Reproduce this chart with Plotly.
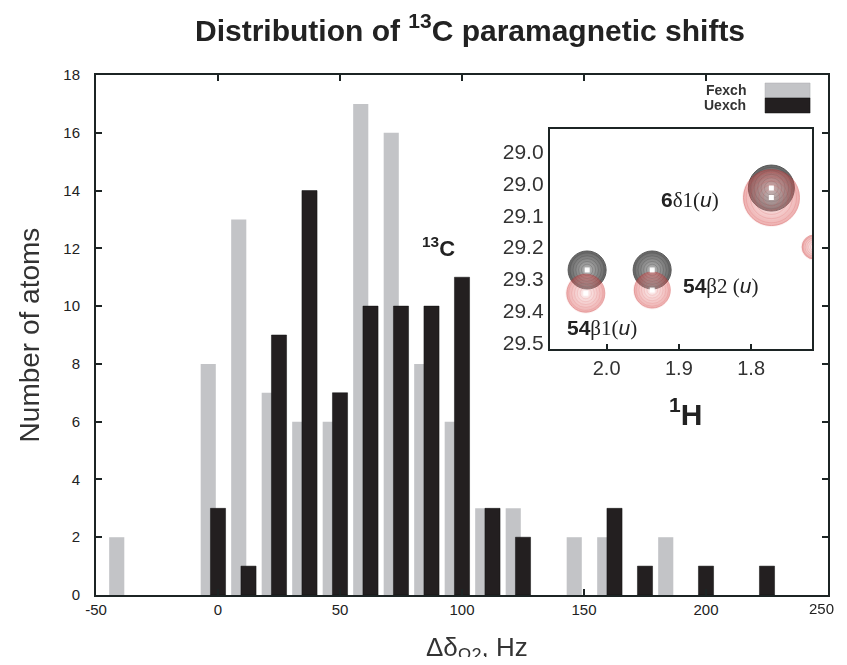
import plotly.graph_objects as go

# ---------------- data ----------------
# histogram bins (Hz) and counts
fexch_x = [-37.5, 0, 12.5, 25, 37.5, 50, 62.5, 75, 87.5, 100, 112.5, 125, 150, 162.5, 187.5]
fexch_y = [2, 8, 13, 7, 6, 6, 17, 16, 8, 6, 3, 3, 2, 2, 2]
uexch_x = [0, 12.5, 25, 37.5, 50, 62.5, 75, 87.5, 100, 112.5, 125, 162.5, 175, 200, 225]
uexch_y = [3, 1, 9, 14, 7, 10, 10, 10, 11, 3, 2, 3, 1, 1, 1]

x_ticks = [-50, 0, 50, 100, 150, 200, 250]
x_ticktext = ["-50", "0", "50", "100", "150", "200", "250"]
y_ticks = [0, 2, 4, 6, 8, 10, 12, 14, 16, 18]

# inset spectrum: peak positions (1H ppm, 13C ppm)
unexch_peak_h = [2.027, 1.937, 1.772]
unexch_peak_c = [29.272, 29.272, 29.015]
exch_peak_h = [2.029, 1.937, 1.772, 1.713]
exch_peak_c = [29.345, 29.335, 29.045, 29.20]

inset_h_ticks = [2.0, 1.9, 1.8]
inset_c_tickvals = [28.9, 29.0, 29.1, 29.2, 29.3, 29.4, 29.5]
inset_c_ticktext = ["29.0", "29.0", "29.1", "29.2", "29.3", "29.4", "29.5"]

serif = "Liberation Serif, Times New Roman, serif"
peak_labels = [
    ("<b>6</b><span style='font-family:%s'>δ1(</span><i>u</i><span style='font-family:%s'>)</span>" % (serif, serif), 1.884, 29.052),
    ("<b>54</b><span style='font-family:%s'>β2 (</span><i>u</i><span style='font-family:%s'>)</span>" % (serif, serif), 1.843, 29.321),
    ("<b>54</b><span style='font-family:%s'>β1(</span><i>u</i><span style='font-family:%s'>)</span>" % (serif, serif), 2.007, 29.455),
]

# ---------------- styles ----------------
FONT = "Liberation Sans, Arial, Helvetica, sans-serif"
GRAY = "#c3c4c7"
BLACK = "#231f20"
AXC = "#1c2424"
unexch_sizes = [38, 38, 46]
exch_sizes = [38, 36, 56, 24]
ring_fracs = [0.9, 0.75, 0.6, 0.45, 0.3]

fig = go.Figure()

fig.add_trace(go.Bar(x=fexch_x, y=fexch_y, width=6.2, offset=-7.1,
                     marker=dict(color=GRAY, line=dict(width=0)), name="Fexch",
                     xaxis="x", yaxis="y"))
fig.add_trace(go.Bar(x=uexch_x, y=uexch_y, width=6.2, offset=-3.1,
                     marker=dict(color=BLACK, line=dict(color="#111", width=0.5)), name="Uexch",
                     xaxis="x", yaxis="y"))

# inset: unexchanged (black) peaks
fig.add_trace(go.Scatter(x=unexch_peak_h, y=unexch_peak_c, mode="markers",
                         marker=dict(size=unexch_sizes, color="#262626",
                                     gradient=dict(type="radial", color="#9a9a9a"),
                                     line=dict(width=1, color="#111")),
                         xaxis="x2", yaxis="y2", hoverinfo="skip"))
for f in ring_fracs:
    fig.add_trace(go.Scatter(x=unexch_peak_h, y=unexch_peak_c, mode="markers",
                             marker=dict(size=[s * f for s in unexch_sizes], symbol="circle-open",
                                         color="rgba(40,40,40,0.35)", line=dict(width=0.8)),
                             xaxis="x2", yaxis="y2", hoverinfo="skip"))
# inset: exchanged (red) peaks
fig.add_trace(go.Scatter(x=exch_peak_h, y=exch_peak_c, mode="markers",
                         marker=dict(size=exch_sizes, color="rgba(215,70,70,0.8)",
                                     gradient=dict(type="radial", color="rgba(245,205,205,0.6)"),
                                     line=dict(width=1, color="rgba(200,40,40,0.9)")),
                         opacity=0.75, xaxis="x2", yaxis="y2", hoverinfo="skip"))
for f in ring_fracs:
    fig.add_trace(go.Scatter(x=exch_peak_h, y=exch_peak_c, mode="markers",
                             marker=dict(size=[s * f for s in exch_sizes], symbol="circle-open",
                                         color="rgba(215,80,80,0.3)", line=dict(width=0.8)),
                             xaxis="x2", yaxis="y2", hoverinfo="skip"))
# peak tops
fig.add_trace(go.Scatter(x=unexch_peak_h + exch_peak_h[:3], y=unexch_peak_c + exch_peak_c[:3],
                         mode="markers",
                         marker=dict(size=5, symbol="square", color="white", line=dict(width=0)),
                         xaxis="x2", yaxis="y2", hoverinfo="skip"))

axis_common = dict(showline=True, linewidth=2, linecolor=AXC, mirror="ticks",
                   ticks="inside", ticklen=6, tickwidth=2, tickcolor=AXC,
                   showgrid=False, zeroline=False)

annotations = [
    dict(text="Number of atoms", xref="paper", yref="paper", x=-0.091, y=0.5,
         xanchor="center", yanchor="middle",
         textangle=-90, showarrow=False, font=dict(family=FONT, size=28, color="#333")),
    dict(text="Δδ<sub>Ω2</sub>, Hz", xref="paper", yref="paper", x=0.52, y=-0.103,
         xanchor="center", yanchor="middle", showarrow=False,
         font=dict(family=FONT, size=26, color="#333")),
    # last x tick label, pulled in so it stays inside the page
    dict(text=x_ticktext[-1], x=1.0115, y=-0.026, xref="paper", yref="paper",
         xanchor="right", yanchor="middle", showarrow=False,
         font=dict(family=FONT, size=15, color="#222")),
    dict(text="<b>Fexch</b>", xref="paper", yref="paper", x=0.891, y=0.971,
         xanchor="right", yanchor="middle", showarrow=False,
         font=dict(family=FONT, size=14, color="#333")),
    dict(text="<b>Uexch</b>", xref="paper", yref="paper", x=0.891, y=0.942,
         xanchor="right", yanchor="middle", showarrow=False,
         font=dict(family=FONT, size=14, color="#333")),
    dict(text="<b><sup>13</sup>C</b>", xref="paper", yref="paper", x=0.468, y=0.67,
         xanchor="center", yanchor="middle", showarrow=False,
         font=dict(family=FONT, size=22, color="#222")),
    dict(text="<b><sup>1</sup>H</b>", xref="paper", yref="paper", x=0.805, y=0.352,
         xanchor="center", yanchor="middle", showarrow=False,
         font=dict(family=FONT, size=30, color="#222")),
]
for txt, h, c in peak_labels:
    annotations.append(dict(text=txt, x=h, y=c, xref="x2", yref="y2", showarrow=False,
                            xanchor="center", yanchor="middle",
                            font=dict(family=FONT, size=21, color="#222")))

shapes = [
    dict(type="rect", xref="paper", yref="paper", x0=0.914, x1=0.9755, y0=0.9558, y1=0.9846,
         fillcolor=GRAY, line=dict(color="#a9aaad", width=0.5)),
    dict(type="rect", xref="paper", yref="paper", x0=0.914, x1=0.9755, y0=0.9269, y1=0.9558,
         fillcolor=BLACK, line=dict(color="#111", width=0.5)),
]

fig.update_layout(
    width=831, height=649,
    margin=dict(l=88, r=9, t=67, b=62),
    paper_bgcolor="white", plot_bgcolor="white",
    barmode="overlay", showlegend=False,
    title=dict(text="<b>Distribution of <sup>13</sup>C paramagnetic shifts</b>",
               x=0.556, y=0.966, xanchor="center", yanchor="middle",
               font=dict(family=FONT, size=30, color="#222")),
    font=dict(family=FONT, color="#333"),
    xaxis=dict(range=[-50, 250], tickvals=x_ticks, ticktext=x_ticktext[:-1] + [""],
               tickfont=dict(size=15, color="#222"), **axis_common),
    yaxis=dict(range=[0, 18], tickvals=y_ticks, tickfont=dict(size=15, color="#222"),
               ticklabelstandoff=11, **axis_common),
    xaxis2=dict(domain=[0.620, 0.978], anchor="y2", range=[2.0786, 1.7159],
                tickvals=inset_h_ticks, tickformat=".1f", tickfont=dict(size=20, color="#333"),
                showline=True, linewidth=2, linecolor=AXC, mirror=True,
                ticks="inside", ticklen=5, tickwidth=1.5, tickcolor=AXC,
                showgrid=False, zeroline=False),
    yaxis2=dict(domain=[0.473, 0.896], anchor="x2", range=[29.52, 28.83],
                tickvals=inset_c_tickvals, ticktext=inset_c_ticktext,
                tickfont=dict(size=21, color="#333"),
                showline=True, linewidth=2, linecolor=AXC, mirror=True, ticks="",
                showgrid=False, zeroline=False),
    annotations=annotations, shapes=shapes,
)

fig.write_html("out.html")
